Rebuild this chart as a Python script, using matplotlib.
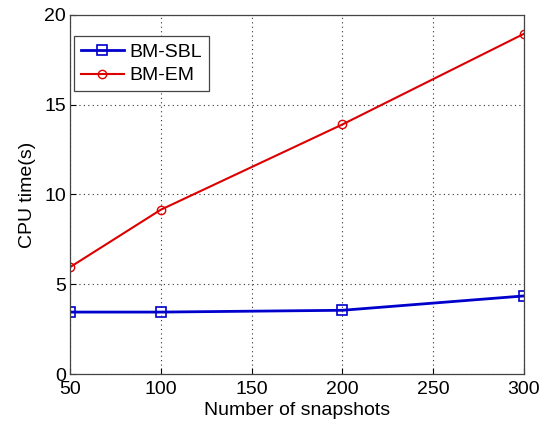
import matplotlib
matplotlib.use("Agg")
import matplotlib.pyplot as plt

snapshots = [50, 100, 200, 300]
sbl_time = [3.45, 3.45, 3.55, 4.35]
em_time = [5.95, 9.15, 13.9, 18.95]

plt.rcParams['font.family'] = ['Liberation Sans', 'DejaVu Sans']

fig = plt.figure(figsize=(5.51, 4.26), dpi=100)
ax = fig.add_axes([0.127, 0.122, 0.824, 0.843])

ax.plot(snapshots, sbl_time, color='#0000cc', lw=2, marker='s', ms=7,
        mfc='none', mec='#0000cc', mew=1.2, label='BM-SBL')
ax.plot(snapshots, em_time, color='#dd0000', lw=1.5, marker='o', ms=6,
        mfc='none', mec='#dd0000', mew=1.0, label='BM-EM')

ax.set_xlim(50, 300)
ax.set_ylim(0, 20)
ax.set_xticks([50, 100, 150, 200, 250, 300])
ax.set_yticks([0, 5, 10, 15, 20])
ax.grid(True, linestyle=(0, (1, 3)), color='#333333', lw=0.8)
ax.tick_params(direction='in', labelsize=14, length=4, pad=3)
ax.tick_params(axis='x', pad=5)
for s in ax.spines.values():
    s.set_color('#444444')
    s.set_linewidth(0.9)

ax.set_xlabel('Number of snapshots', fontsize=14, labelpad=3)
ax.set_ylabel('CPU time(s)', fontsize=14, labelpad=6)

leg = ax.legend(loc='upper left', fontsize=14, fancybox=False, framealpha=1,
                edgecolor='#444444', handlelength=2.2, borderpad=0.35,
                labelspacing=0.3, handletextpad=0.3, borderaxespad=0,
                bbox_to_anchor=(0.009, 0.94))
leg.get_frame().set_linewidth(0.9)

fig.savefig('out.png', dpi=100)
